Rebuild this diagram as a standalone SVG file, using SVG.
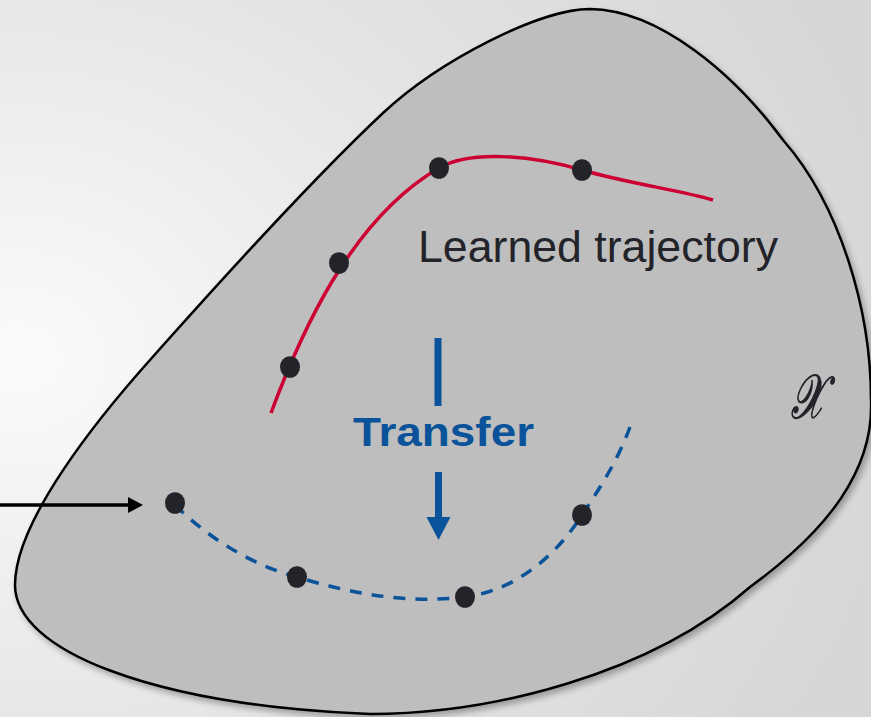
<svg xmlns="http://www.w3.org/2000/svg" width="871" height="717" viewBox="0 0 871 717">
  <defs>
    <radialGradient id="bg" cx="0.02" cy="0.5" r="1.05" fx="0.02" fy="0.5">
      <stop offset="0" stop-color="#fbfbfb"/>
      <stop offset="0.55" stop-color="#e4e4e4"/>
      <stop offset="1" stop-color="#d6d6d6"/>
    </radialGradient>
    <filter id="shadow" x="-5%" y="-5%" width="115%" height="115%">
      <feDropShadow dx="3" dy="4" stdDeviation="3" flood-color="#000" flood-opacity="0.3"/>
    </filter>
    <marker id="blackHead" markerWidth="15" markerHeight="16" refX="0" refY="8" orient="auto" markerUnits="userSpaceOnUse">
      <polygon points="0,0 15,8 0,16" fill="#000"/>
    </marker>
  </defs>
  <style>
    .dot { fill: #23232a; }
    .label { font-family: "Liberation Sans", "DejaVu Sans", sans-serif; }
  </style>
  <rect x="0" y="0" width="871" height="717" fill="url(#bg)"/>
  <g id="space">
    <path filter="url(#shadow)" fill="#bebebe" stroke="#000" stroke-width="2.5"
      d="M 590 9 C 540 9, 440 60, 383 113 C 320 172, 230 270, 150 360 C 100 416, 15 520, 15 585 C 15 650, 150 705, 370 714 C 490 714, 650 675, 750 587 C 828 530, 874 470, 871 400 C 871 310, 840 205, 783 140 C 735 75, 660 10, 590 9 Z"/>
    <text transform="translate(791 418) scale(0.85 1.35)" x="0" y="0" font-family="'Liberation Serif', 'DejaVu Serif', serif" font-style="italic" font-size="46" fill="#23232a" stroke="#23232a" stroke-width="0.9">𝒳</text>
  </g>
  <g id="connectors">
    <path id="learned" d="M 271 413 C 300 335, 350 220, 439 168 C 470 150, 530 155, 582 170 C 630 184, 680 190, 713 200" fill="none" stroke="#cc0033" stroke-width="3.5"/>
    <path id="transferred" d="M 175 505 C 205 535, 250 565, 297 577 C 340 590, 400 605, 465 597 C 520 590, 560 550, 582 515 C 600 488, 618 460, 630 427" fill="none" stroke="#0a5299" stroke-width="3.5" stroke-dasharray="12 10"/>
    <line x1="0" y1="505" x2="128" y2="505" stroke="#000" stroke-width="3.5" marker-end="url(#blackHead)"/>
    <line x1="438" y1="338" x2="438" y2="406" stroke="#0a5299" stroke-width="7"/>
    <line x1="438.5" y1="472" x2="438.5" y2="518" stroke="#0a5299" stroke-width="7"/>
    <polygon points="426.5,517 450.5,517 438.5,540" fill="#0a5299"/>
  </g>
  <g id="learned-points">
    <ellipse class="dot" cx="290" cy="367" rx="10" ry="10.8"/>
    <ellipse class="dot" cx="339" cy="263" rx="10" ry="10.8"/>
    <ellipse class="dot" cx="439" cy="168" rx="10" ry="10.8"/>
    <ellipse class="dot" cx="582" cy="170" rx="10" ry="10.8"/>
  </g>
  <g id="transferred-points">
    <ellipse class="dot" cx="175" cy="503" rx="10" ry="10.8"/>
    <ellipse class="dot" cx="297" cy="577" rx="10" ry="10.8"/>
    <ellipse class="dot" cx="465" cy="597" rx="10" ry="10.8"/>
    <ellipse class="dot" cx="582" cy="515" rx="10" ry="10.8"/>
  </g>
  <g id="label-learned">
    <text class="label" x="418" y="262" font-size="44" fill="#23232a" textLength="360" lengthAdjust="spacingAndGlyphs">Learned trajectory</text>
  </g>
  <g id="label-transfer">
    <text class="label" x="353" y="446" font-size="41" font-weight="bold" fill="#0a5299" textLength="181" lengthAdjust="spacingAndGlyphs">Transfer</text>
  </g>
</svg>
